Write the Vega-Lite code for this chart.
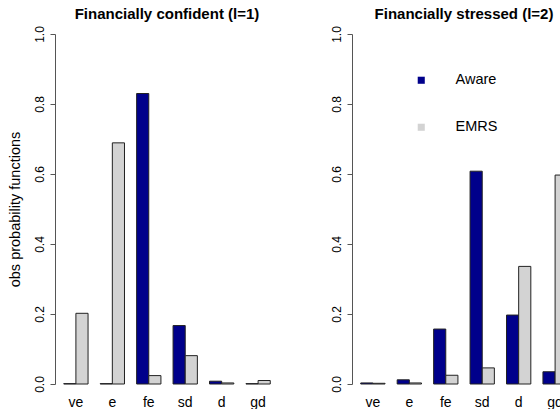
{
  "$schema": "https://vega.github.io/schema/vega-lite/v6.json",
  "padding": {"left": 7, "top": 6, "right": 0, "bottom": 0},
  "background": "white",
  "config": {
    "view": {"stroke": null},
    "font": "Liberation Sans",
    "axis": {"grid": false, "labelColor": "#000", "titleColor": "#000"},
    "title": {"fontSize": 15, "fontWeight": "bold", "anchor": "middle", "color": "#000", "offset": 4}
  },
  "data": {
    "values": [
      {"panel": "confident", "cat": "ve", "series": "Aware", "value": 0.001},
      {"panel": "confident", "cat": "ve", "series": "EMRS", "value": 0.202},
      {"panel": "confident", "cat": "e", "series": "Aware", "value": 0.001},
      {"panel": "confident", "cat": "e", "series": "EMRS", "value": 0.689},
      {"panel": "confident", "cat": "fe", "series": "Aware", "value": 0.830},
      {"panel": "confident", "cat": "fe", "series": "EMRS", "value": 0.024},
      {"panel": "confident", "cat": "sd", "series": "Aware", "value": 0.167},
      {"panel": "confident", "cat": "sd", "series": "EMRS", "value": 0.081},
      {"panel": "confident", "cat": "d", "series": "Aware", "value": 0.008},
      {"panel": "confident", "cat": "d", "series": "EMRS", "value": 0.003},
      {"panel": "confident", "cat": "gd", "series": "Aware", "value": 0.001},
      {"panel": "confident", "cat": "gd", "series": "EMRS", "value": 0.010},
      {"panel": "stressed", "cat": "ve", "series": "Aware", "value": 0.003},
      {"panel": "stressed", "cat": "ve", "series": "EMRS", "value": 0.002},
      {"panel": "stressed", "cat": "e", "series": "Aware", "value": 0.012},
      {"panel": "stressed", "cat": "e", "series": "EMRS", "value": 0.003},
      {"panel": "stressed", "cat": "fe", "series": "Aware", "value": 0.157},
      {"panel": "stressed", "cat": "fe", "series": "EMRS", "value": 0.025},
      {"panel": "stressed", "cat": "sd", "series": "Aware", "value": 0.608},
      {"panel": "stressed", "cat": "sd", "series": "EMRS", "value": 0.046},
      {"panel": "stressed", "cat": "d", "series": "Aware", "value": 0.197},
      {"panel": "stressed", "cat": "d", "series": "EMRS", "value": 0.336},
      {"panel": "stressed", "cat": "gd", "series": "Aware", "value": 0.035},
      {"panel": "stressed", "cat": "gd", "series": "EMRS", "value": 0.597}
    ]
  },
  "spacing": 51,
  "resolve": {"legend": {"color": "independent"}},
  "hconcat": [
    {
      "transform": [{"filter": "datum.panel == 'confident'"}],
      "title": "Financially confident (l=1)",
      "width": 224,
      "height": 350,
      "mark": {"type": "bar", "stroke": "#222", "strokeWidth": 1},
      "encoding": {
        "x": {
          "field": "cat", "type": "nominal",
          "sort": ["ve", "e", "fe", "sd", "d", "gd"],
          "scale": {"paddingInner": 0.333, "paddingOuter": 0.24},
          "axis": {"title": null, "domain": false, "ticks": false, "labelAngle": 0, "labelPadding": 11, "labelFontSize": 14}
        },
        "xOffset": {"field": "series", "sort": ["Aware", "EMRS"], "scale": {"paddingInner": 0, "paddingOuter": 0}},
        "y": {
          "field": "value", "type": "quantitative",
          "scale": {"domain": [0, 1], "nice": false},
          "axis": {
            "values": [0, 0.2, 0.4, 0.6, 0.8, 1], "format": ".1f",
            "labelAngle": -90, "labelAlign": "center", "labelBaseline": "bottom",
            "labelFontSize": 12, "tickSize": 5, "labelPadding": 4,
            "domainColor": "#555", "tickColor": "#555",
            "title": "obs probability functions", "titleFontWeight": "normal", "titleFontSize": 14.5, "titlePadding": 11
          }
        },
        "color": {"field": "series", "scale": {"domain": ["Aware", "EMRS"], "range": ["#00008B", "#D3D3D3"]}, "legend": null}
      }
    },
    {
      "transform": [{"filter": "datum.panel == 'stressed'"}],
      "title": "Financially stressed (l=2)",
      "width": 224,
      "height": 350,
      "mark": {"type": "bar", "stroke": "#222", "strokeWidth": 1},
      "encoding": {
        "x": {
          "field": "cat", "type": "nominal",
          "sort": ["ve", "e", "fe", "sd", "d", "gd"],
          "scale": {"paddingInner": 0.333, "paddingOuter": 0.24},
          "axis": {"title": null, "domain": false, "ticks": false, "labelAngle": 0, "labelPadding": 11, "labelFontSize": 14}
        },
        "xOffset": {"field": "series", "sort": ["Aware", "EMRS"], "scale": {"paddingInner": 0, "paddingOuter": 0}},
        "y": {
          "field": "value", "type": "quantitative",
          "scale": {"domain": [0, 1], "nice": false},
          "axis": {
            "values": [0, 0.2, 0.4, 0.6, 0.8, 1], "format": ".1f",
            "labelAngle": -90, "labelAlign": "center", "labelBaseline": "bottom",
            "labelFontSize": 12, "tickSize": 5, "labelPadding": 4,
            "domainColor": "#555", "tickColor": "#555",
            "title": null
          }
        },
        "color": {
          "field": "series",
          "scale": {"domain": ["Aware", "EMRS"], "range": ["#00008B", "#D3D3D3"]},
          "legend": {
            "orient": "none", "legendX": 62, "legendY": 39, "title": null,
            "symbolType": "square", "symbolSize": 50, "symbolStrokeWidth": 0,
            "labelFontSize": 14.5, "labelOffset": 27, "rowPadding": 32, "padding": 0
          }
        }
      }
    }
  ]
}
